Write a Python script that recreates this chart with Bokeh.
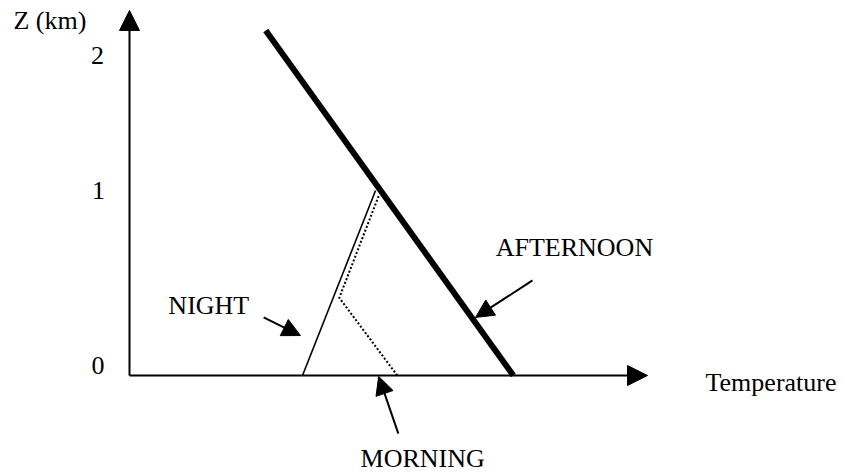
from bokeh.plotting import figure
from bokeh.models import Arrow, NormalHead, ColumnDataSource, Range1d
from bokeh.core.properties import value
from bokeh.embed import file_html
from bokeh.resources import INLINE

# ---- data (temperature in arbitrary units, Z in km) ----
afternoon_T = [26.3, 74.1]
afternoon_Z = [1.865, 0.0]
night_T = [33.4, 47.5]
night_Z = [0.0, 1.0]
morning_T = [51.7, 40.5, 48.1]
morning_Z = [0.0, 0.42, 0.97]

tick_labels = ["0", "1", "2"]
tick_Z = [0.054, 1.0, 1.73]
tick_T = [-6.1, -6.0, -6.2]

label_texts = ["Z (km)", "NIGHT", "AFTERNOON", "MORNING", "Temperature"]
label_T = [-22.4, 7.5, 70.7, 44.6, 111.2]
label_Z = [1.92, 0.378, 0.692, -0.449, -0.038]

# pointer arrows: (T_start, Z_start, T_end, Z_end)
pointer_T0 = [25.9, 77.8, 51.9]
pointer_Z0 = [0.314, 0.514, -0.314]
pointer_T1 = [33.0, 66.8, 48.1]
pointer_Z1 = [0.216, 0.314, -0.005]

axis_T_end = 100.0
axis_Z_end = 1.973

FONT = value("Liberation Serif")

# 1 temperature unit = 5.18 px, 1 km = 185 px; origin at (129, 375) in picture pixels
W, H = 843, 473
p = figure(width=W, height=H, output_backend="svg", toolbar_location=None,
           x_range=Range1d(-129 / 5.18, (W - 129) / 5.18),
           y_range=Range1d((375 - H) / 185, 375 / 185),
           min_border=0, x_axis_type=None, y_axis_type=None)
p.grid.visible = False
p.outline_line_color = None
p.background_fill_color = "white"
p.border_fill_color = "white"

# axes with arrow heads
p.add_layout(Arrow(end=NormalHead(size=20, fill_color="black", line_color="black", line_width=1),
                   x_start=0, y_start=0, x_end=axis_T_end, y_end=0,
                   line_width=2, line_color="black"))
p.add_layout(Arrow(end=NormalHead(size=20, fill_color="black", line_color="black", line_width=1),
                   x_start=0, y_start=0, x_end=0, y_end=axis_Z_end,
                   line_width=2, line_color="black"))

# profiles
p.line(afternoon_T, afternoon_Z, line_width=6, line_color="black")
p.line(night_T, night_Z, line_width=1.6, line_color="black")
p.line(morning_T, morning_Z, line_width=2, line_color="black", line_dash="2 2")

# pointer arrows
for t0, z0, t1, z1 in zip(pointer_T0, pointer_Z0, pointer_T1, pointer_Z1):
    p.add_layout(Arrow(end=NormalHead(size=18, fill_color="black", line_color="black", line_width=1),
                       x_start=t0, y_start=z0, x_end=t1, y_end=z1,
                       line_width=2, line_color="black"))

# tick labels
tick_src = ColumnDataSource(dict(x=tick_T, y=tick_Z, text=tick_labels))
p.text(x="x", y="y", text="text", source=tick_src, text_font=FONT,
       text_font_size="26px", text_align="center", text_baseline="middle", text_color="black")

# labels
lab_src = ColumnDataSource(dict(x=label_T, y=label_Z, text=label_texts))
p.text(x="x", y="y", text="text", source=lab_src, text_font=FONT,
       text_font_size="26px", text_align="left", text_baseline="middle", text_color="black")

open("out.html", "w").write(file_html(p, INLINE))
